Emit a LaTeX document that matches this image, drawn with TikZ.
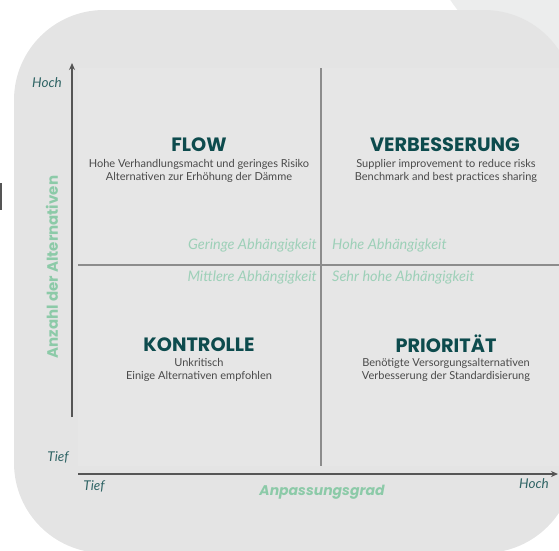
\documentclass[tikz,border=0pt]{standalone}
\usepackage{fontspec}
\setmainfont{Lato}
\newfontfamily\titlefont{Poppins}
\usepackage{tikz}
\usetikzlibrary{arrows.meta}

\definecolor{bgcol}{HTML}{E4E4E4}
\definecolor{backcol}{HTML}{ECEDED}
\definecolor{panelcol}{HTML}{E6E6E6}
\definecolor{titlecol}{HTML}{0D4B4D}
\definecolor{bodycol}{HTML}{4A4A4A}
\definecolor{levelcol}{HTML}{2F6465}
\definecolor{axislabcol}{HTML}{8CCAA8}
\definecolor{depcol}{HTML}{9DD0B8}
\definecolor{axiscol}{HTML}{555555}
\definecolor{divcol}{HTML}{8C8C8C}

\begin{document}
\begin{tikzpicture}[x=1pt, y=-1pt,
  title/.style={font=\titlefont\bfseries\fontsize{19.3}{19.3}\selectfont, text=titlecol, inner sep=0pt},
  body/.style={align=center, font=\fontsize{11}{13}\selectfont, text=bodycol, inner sep=0pt},
  level/.style={font=\itshape\fontsize{13.5}{13.5}\selectfont, text=levelcol, inner sep=0pt},
  dep/.style={font=\itshape\fontsize{14.5}{14.5}\selectfont, text=depcol, inner sep=0pt},
  axislab/.style={font=\titlefont\bfseries\fontsize{15}{15}\selectfont, text=axislabcol, inner sep=0pt},
  axis/.style={draw=axiscol, line width=1.6pt, -{Stealth[length=7pt, width=6pt]}},
  divider/.style={draw=divcol, line width=1.6pt}]

  \useasboundingbox (0, 0) rectangle (559, 550);

  % background
  \fill [backcol] (600, -100) circle (180);
  \fill [bgcol, rounded corners=90] (14, 10) rectangle (574, 553);
  \fill [panelcol] (78, 68) rectangle (559, 466);
  \fill [axiscol] (0, 183) rectangle (1.5, 210);

  \coordinate (yb) at (72, 417);
  \coordinate (yt) at (72, 63);
  \coordinate (xl) at (78, 474);
  \coordinate (xr) at (558, 474);
  \coordinate (vt) at (321, 68);
  \coordinate (vb) at (321, 466);
  \coordinate (hl) at (78, 265);
  \coordinate (hr) at (559, 265);

  \node [title] (a) at (199, 145) {FLOW};
  \node [title] (b) at (445, 145) {VERBESSERUNG};
  \node [title] (c) at (199, 345) {KONTROLLE};
  \node [title] (d) at (446, 344) {PRIORITÄT};
  \node [body] (e) at (199, 171) {Hohe Verhandlungsmacht und geringes Risiko\\Alternativen zur Erhöhung der Dämme};
  \node [body] (f) at (446, 171) {Supplier improvement to reduce risks\\Benchmark and best practices sharing};
  \node [body] (g) at (199, 370) {Unkritisch\\Einige Alternativen empfohlen};
  \node [body] (h) at (446, 370) {Benötigte Versorgungsalternativen\\Verbesserung der Standardisierung};

  \node [dep, anchor=east] (i) at (317, 245) {Geringe Abhängigkeit};
  \node [dep, anchor=west] (j) at (332, 245) {Hohe Abhängigkeit};
  \node [dep, anchor=east] (k) at (317, 277) {Mittlere Abhängigkeit};
  \node [dep, anchor=west] (l) at (332, 277) {Sehr hohe Abhängigkeit};

  \node [level] (m) at (47, 83) {Hoch};
  \node [level] (n) at (58, 457) {Tief};
  \node [level] (o) at (94, 486) {Tief};
  \node [level] (p) at (534, 484) {Hoch};

  \node [axislab, rotate=90] (q) at (52, 267) {Anzahl der Alternativen};
  \node [axislab, font=\titlefont\bfseries\itshape\fontsize{14}{14}\selectfont] (r) at (322, 492) {Anpassungsgrad};

  \draw [divider] (vt) to (vb);
  \draw [divider] (hl) to (hr);
  \draw [axis] (yb) to (yt);
  \draw [axis] (xl) to (xr);

\end{tikzpicture}
\end{document}
